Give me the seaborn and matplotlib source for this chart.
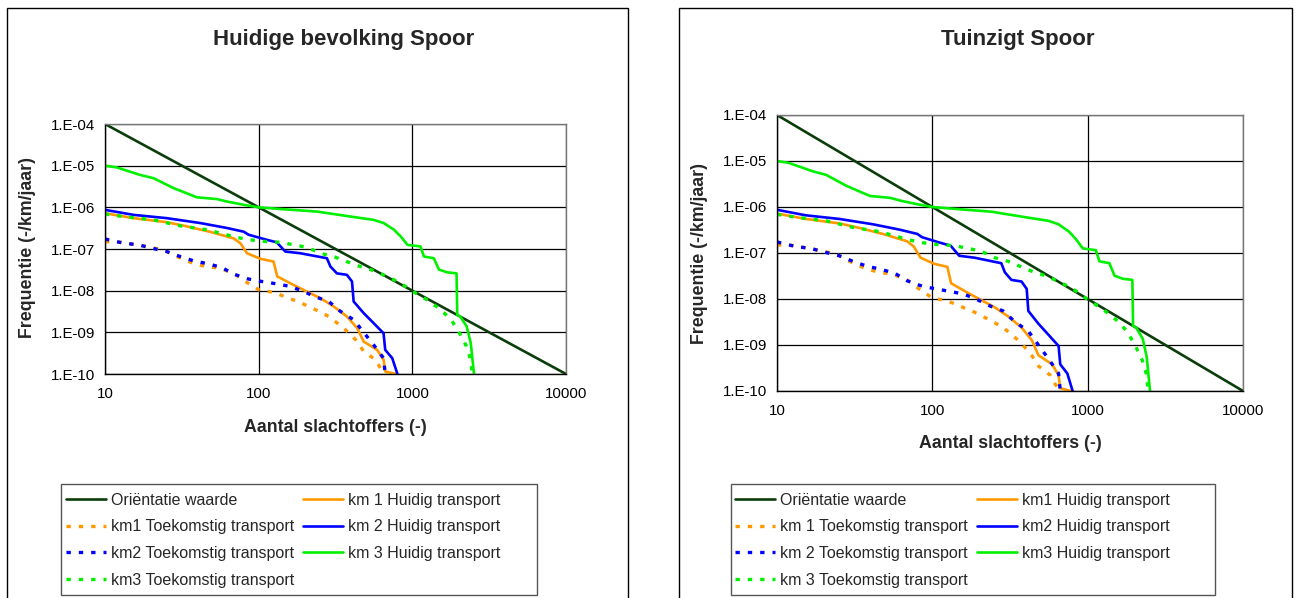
import numpy as np
import matplotlib
matplotlib.use('Agg')
import matplotlib.pyplot as plt
import seaborn as sns
from matplotlib.patches import Rectangle
from matplotlib.ticker import FuncFormatter, FixedLocator, LogLocator, NullFormatter

sns.set_style("white")
plt.rcParams['font.family'] = ['Liberation Sans', 'DejaVu Sans']

# Orientatie waarde (straight line)
orient_n = [10, 10000]
orient_f = [1e-4, 1e-10]

# km 1 huidig / toekomstig
km1_h_n = [10, 15.3, 25.2, 34, 48, 68.7, 76, 84, 103, 125, 132, 168, 206, 252, 307, 375, 438, 482, 590, 650, 666, 780]
km1_h_f = [7.2e-7, 5.5e-7, 4.4e-7, 3.5e-7, 2.6e-7, 1.8e-7, 1.38e-7, 7.9e-8, 5.8e-8, 5.0e-8, 2.2e-8, 1.38e-8,
           9.5e-9, 6.6e-9, 4.2e-9, 2.4e-9, 1.26e-9, 6.0e-10, 3.8e-10, 2.2e-10, 1.15e-10, 1.0e-10]
km1_t_n = [10, 12.8, 16, 20, 24.6, 29.3, 36, 45, 55, 68.7, 82, 100, 125, 157, 186, 234, 286, 358, 428, 482, 575, 620, 680]
km1_t_f = [1.5e-7, 1.45e-7, 1.26e-7, 1.1e-7, 9.1e-8, 6.6e-8, 4.8e-8, 3.8e-8, 3.5e-8, 2.6e-8, 1.66e-8, 1.05e-8,
           9.1e-9, 6.6e-9, 5.2e-9, 3.5e-9, 2.4e-9, 1.26e-9, 6.6e-10, 3.5e-10, 2.2e-10, 1.38e-10, 1.0e-10]

# km 2 huidig / toekomstig
km2_h_n = [10, 15.3, 25.2, 41.6, 62, 80, 86, 113, 131, 149, 187, 278, 293, 323, 375, 405, 415, 482, 560, 650, 666, 740, 800]
km2_h_f = [8.7e-7, 6.6e-7, 5.5e-7, 4.2e-7, 3.2e-7, 2.6e-7, 2.2e-7, 1.66e-7, 1.45e-7, 8.7e-8, 7.9e-8, 6.0e-8,
           3.8e-8, 2.6e-8, 2.4e-8, 1.66e-8, 5.5e-9, 2.9e-9, 1.66e-9, 9.5e-10, 3.8e-10, 2.4e-10, 1.0e-10]
km2_t_n = [10, 13.2, 16.5, 20.1, 25.2, 30.8, 37.7, 47, 57.6, 68.7, 86, 105, 132, 161, 197, 234, 286, 340, 415, 482, 560, 650, 666]
km2_t_f = [1.74e-7, 1.38e-7, 1.26e-7, 1.05e-7, 8.7e-8, 6.6e-8, 5.2e-8, 4.4e-8, 3.6e-8, 2.5e-8, 1.9e-8, 1.66e-8,
           1.45e-8, 1.26e-8, 9.5e-9, 7.1e-9, 5.5e-9, 3.2e-9, 2.0e-9, 1.0e-9, 5.0e-10, 2.4e-10, 1.0e-10]

# km 3 huidig / toekomstig
km3_h_n = [10, 11.9, 16.9, 20.7, 27.9, 39.6, 53.5, 62, 80, 100, 152, 240, 397, 560, 650, 760, 840, 930, 1130, 1190,
           1380, 1490, 1690, 1940, 1960, 2050, 2260, 2400, 2520]
km3_h_f = [1.0e-5, 9.1e-6, 6.0e-6, 5.0e-6, 2.9e-6, 1.74e-6, 1.58e-6, 1.38e-6, 1.15e-6, 1.0e-6, 8.9e-7, 7.9e-7,
           6.0e-7, 5.0e-7, 4.2e-7, 2.9e-7, 2.0e-7, 1.26e-7, 1.15e-7, 6.6e-8, 6.0e-8, 3.2e-8, 2.75e-8, 2.6e-8,
           2.6e-9, 2.4e-9, 1.38e-9, 5.5e-10, 1.0e-10]
km3_t_n = [10, 13.2, 20.7, 30.8, 46, 72, 88, 113, 138, 206, 252, 307, 438, 536, 686, 840, 1010, 1250, 1530, 1790,
           2030, 2250, 2400, 2450]
km3_t_f = [6.9e-7, 6.0e-7, 5.0e-7, 3.6e-7, 2.9e-7, 1.9e-7, 1.66e-7, 1.5e-7, 1.45e-7, 1.1e-7, 7.9e-8, 6.6e-8,
           4.0e-8, 3.2e-8, 2.2e-8, 1.5e-8, 9.5e-9, 6.0e-9, 3.5e-9, 2.0e-9, 9.5e-10, 4.6e-10, 2.2e-10, 1.0e-10]

titles = ["Huidige bevolking Spoor", "Tuinzigt Spoor"]
labels_left = ["Oriëntatie waarde", "km 1 Huidig transport", "km1 Toekomstig transport", "km 2 Huidig transport",
               "km2 Toekomstig transport", "km 3 Huidig transport", "km3 Toekomstig transport"]
labels_right = ["Oriëntatie waarde", "km1 Huidig transport", "km 1 Toekomstig transport", "km2 Huidig transport",
                "km 2 Toekomstig transport", "km3 Huidig transport", "km 3 Toekomstig transport"]
x_ticks = [10, 100, 1000, 10000]
y_ticks = [1e-10, 1e-9, 1e-8, 1e-7, 1e-6, 1e-5, 1e-4]

dash = (0, (1.3, 2.4))
series = [(orient_n, orient_f, '#0b3d0b', '-'),
          (km1_h_n, km1_h_f, '#ff9900', '-'),
          (km1_t_n, km1_t_f, '#ff9900', dash),
          (km2_h_n, km2_h_f, '#0000ff', '-'),
          (km2_t_n, km2_t_f, '#0000ff', dash),
          (km3_h_n, km3_h_f, '#00f000', '-'),
          (km3_t_n, km3_t_f, '#00f000', dash)]

W, H = 1299, 598
fig = plt.figure(figsize=(W / 100, H / 100), dpi=100)

def fx(px):
    return px / W

def fy(py):
    return 1 - py / H

# panel layout in pixels: axes box, frame, legend box, title centre
panels = [
    dict(ax=(105, 124, 566, 374), frame=(7, 8, 628), leg=(61, 484, 537, 595), leg_anchor=(66, 493),
         title=(344, 40), ylab=(28, 248), xlab=(335, 427), labels=labels_left),
    dict(ax=(777, 115, 1243, 391), frame=(679, 8, 1292), leg=(731, 484, 1215, 595), leg_anchor=(735, 493),
         title=(1018, 40), ylab=(700, 253), xlab=(1010, 444), labels=labels_right),
]

for i, p in enumerate(panels):
    x0, y0, x1, y1 = p['ax']
    ax = fig.add_axes([fx(x0), fy(y1), fx(x1 - x0), (y1 - y0) / H])
    for (n, f, c, ls), lab in zip(series, p['labels']):
        lw = 1.9 if ls == '-' else 2.4
        sns.lineplot(x=n, y=f, ax=ax, color=c, linewidth=lw, linestyle=ls, label=lab,
                     sort=False, estimator=None)
    ax.set_xscale('log')
    ax.set_yscale('log')
    ax.set_xlim(10, 10000)
    ax.set_ylim(1e-10, 1e-4)
    ax.xaxis.set_major_locator(FixedLocator(x_ticks))
    ax.yaxis.set_major_locator(FixedLocator(y_ticks))
    ax.xaxis.set_minor_locator(LogLocator(base=10, subs=np.arange(2, 10)))
    ax.yaxis.set_minor_locator(LogLocator(base=10, subs=np.arange(2, 10)))
    ax.xaxis.set_minor_formatter(NullFormatter())
    ax.yaxis.set_minor_formatter(NullFormatter())
    ax.xaxis.set_major_formatter(FuncFormatter(lambda v, pos: f"{int(round(v))}"))
    ax.yaxis.set_major_formatter(FuncFormatter(lambda v, pos: f"1.E{int(round(np.log10(v))):03d}"))
    ax.tick_params(which='major', direction='inout', length=7, width=0.9, labelsize=10.8, colors='black')
    ax.tick_params(which='minor', direction='in', length=4, width=0.8, colors='black')
    ax.tick_params(axis='x', which='major', pad=6)
    ax.grid(True, which='major', color='black', linewidth=0.9)
    for s in ['left', 'bottom']:
        ax.spines[s].set_color('black')
        ax.spines[s].set_linewidth(1.0)
    for s in ['top', 'right']:
        ax.spines[s].set_color('#777777')
        ax.spines[s].set_linewidth(1.0)
    ax.set_xlabel('')
    ax.set_ylabel('')
    handles, labs = ax.get_legend_handles_labels()
    if ax.legend_ is not None:
        ax.legend_.remove()

    # text outside axes
    fig.text(fx(p['title'][0]), fy(p['title'][1]), titles[i], ha='center', va='center',
             fontsize=16, fontweight='bold')
    fig.text(fx(p['ylab'][0]), fy(p['ylab'][1]), "Frequentie (-/km/jaar)", ha='center', va='center',
             rotation=90, fontsize=12.8, fontweight='bold')
    fig.text(fx(p['xlab'][0]), fy(p['xlab'][1]), "Aantal slachtoffers (-)", ha='center', va='center',
             fontsize=12.8, fontweight='bold')

    # outer frame of each chart
    fl, ft, fr = p['frame']
    fig.patches.append(Rectangle((fx(fl), -0.02), fx(fr - fl), fy(ft) + 0.02, transform=fig.transFigure,
                                 fill=False, edgecolor='black', linewidth=1.0))
    # legend box
    lx0, ly0, lx1, ly1 = p['leg']
    fig.patches.append(Rectangle((fx(lx0), fy(ly1)), fx(lx1 - lx0), (ly1 - ly0) / H, transform=fig.transFigure,
                                 fill=False, edgecolor='#555555', linewidth=1.0))
    order = [0, 2, 4, 6, 1, 3, 5]
    fig.legend([handles[k] for k in order], [labs[k] for k in order], ncol=2, frameon=False,
               loc='upper left', bbox_to_anchor=(fx(p['leg_anchor'][0]), fy(p['leg_anchor'][1])),
               bbox_transform=fig.transFigure, borderpad=0, borderaxespad=0, fontsize=11.5,
               handlelength=2.5, handletextpad=0.32, columnspacing=0.55, labelspacing=0.72)

fig.savefig('out.png', dpi=100)
